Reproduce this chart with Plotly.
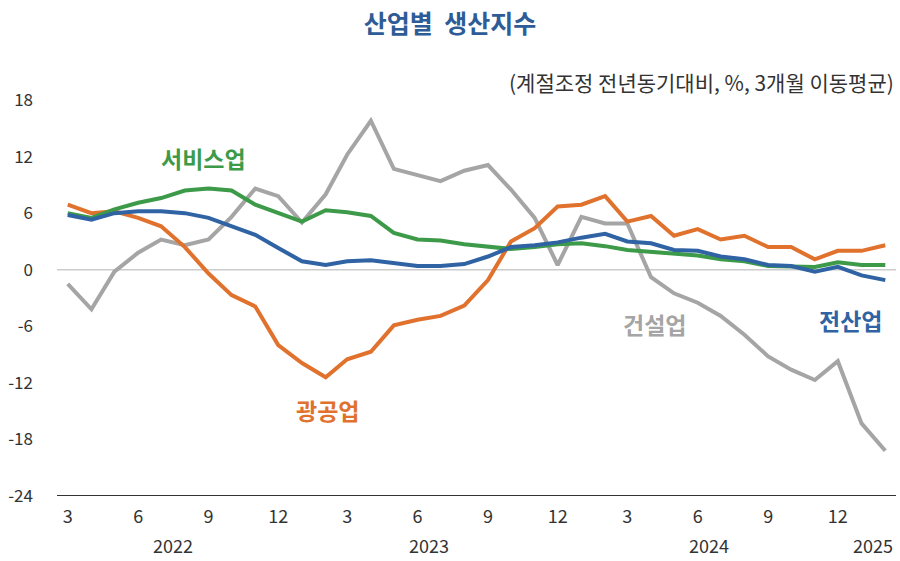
import plotly.graph_objects as go
import pandas as pd

# monthly, 2022-03 ~ 2025-02
months = pd.date_range("2022-03-01", periods=36, freq="MS")

all_ind = [5.8, 5.3, 6.0, 6.2, 6.2, 6.0, 5.5, 4.6, 3.7, 2.3, 0.9, 0.5,
           0.9, 1.0, 0.7, 0.4, 0.4, 0.6, 1.4, 2.4, 2.6, 2.9, 3.4, 3.8,
           3.0, 2.8, 2.1, 2.0, 1.4, 1.1, 0.5, 0.4, -0.2, 0.3, -0.6, -1.1]
mining = [6.9, 6.0, 6.2, 5.5, 4.6, 2.4, -0.4, -2.7, -3.9, -8.0, -9.9, -11.4,
          -9.5, -8.7, -5.9, -5.3, -4.9, -3.8, -1.1, 3.0, 4.4, 6.7, 6.9, 7.8,
          5.1, 5.7, 3.6, 4.3, 3.2, 3.6, 2.4, 2.4, 1.1, 2.0, 2.0, 2.6]
services = [6.0, 5.5, 6.4, 7.1, 7.6, 8.4, 8.6, 8.4, 6.9, 6.0, 5.1, 6.3,
            6.1, 5.7, 3.9, 3.2, 3.1, 2.7, 2.4, 2.2, 2.4, 2.7, 2.8, 2.5,
            2.1, 1.9, 1.7, 1.5, 1.1, 0.9, 0.4, 0.3, 0.3, 0.8, 0.5, 0.5]
construction = [-1.5, -4.2, -0.2, 1.8, 3.2, 2.6, 3.2, 5.6, 8.6, 7.8, 5.0, 8.0,
                12.2, 15.8, 10.7, 10.0, 9.4, 10.5, 11.1, 8.5, 5.5, 0.5, 5.6, 4.9,
                4.9, -0.8, -2.5, -3.5, -4.9, -6.9, -9.2, -10.6, -11.7, -9.7, -16.3, -19.2]

yticks = [18, 12, 6, 0, -6, -12, -18, -24]
ytick_text = ["18", "12", "6", "0", "-6", "-12", "-18", "-24"]
years = ["2022", "2023", "2024", "2025"]
year_pos = ["2022-07-17", "2023-06-16", "2024-06-16", "2025-01-16"]

FONT = "Noto Sans CJK KR"
BLUE = "#2F63A3"
ORANGE = "#E0722E"
GREEN = "#3C9A49"
GRAY = "#A5A5A5"

fig = go.Figure()

series = [
    (construction, GRAY),
    (mining, ORANGE),
    (services, GREEN),
    (all_ind, BLUE),
]
for vals, col in series:
    fig.add_trace(go.Scatter(
        x=months, y=vals, mode="lines",
        line=dict(color=col, width=4),
        showlegend=False, hoverinfo="skip"
    ))

# zero line
fig.add_shape(type="line", xref="paper", x0=0, x1=1, yref="y", y0=0, y1=0,
              line=dict(color="#CCCCCC", width=1.5), layer="below")

tick_dates = [d for d in months if d.month in (3, 6, 9, 12)]
tick_text = [str(d.month) for d in tick_dates]

# series labels
labels = [
    ("서비스업", "2022-08-25", 11.9, GREEN),
    ("광공업", "2023-02-03", -14.85, ORANGE),
    ("건설업", "2024-04-05", -5.8, GRAY),
    ("전산업", "2024-12-17", -5.3, BLUE),
]
for txt, xd, yv, col in labels:
    fig.add_annotation(x=xd, y=yv, text="<b>" + txt + "</b>", showarrow=False,
                       font=dict(family=FONT, size=23, color=col))

for yr, xp in zip(years, year_pos):
    fig.add_annotation(x=xp, y=-0.124, yref="paper", yanchor="middle",
                       text=yr, showarrow=False,
                       font=dict(family=FONT, size=18, color="#333333"))

fig.add_annotation(x=1, y=1.045, xref="paper", yref="paper", xanchor="right",
                   yanchor="middle",
                   text="(계절조정 전년동기대비, %, 3개월 이동평균)", showarrow=False,
                   font=dict(family=FONT, size=21, color="#333333"))

# bottom axis line at -24
fig.add_shape(type="line", xref="paper", x0=0, x1=1, yref="y", y0=-24, y1=-24,
              line=dict(color="#333333", width=2))

fig.update_layout(
    width=900, height=561,
    margin=dict(l=57, r=4, t=100, b=65),
    plot_bgcolor="white", paper_bgcolor="white",
    font=dict(family=FONT, size=15, color="#333333"),
    title=dict(text="<b>산업별  생산지수</b>", x=0.5, xanchor="center", y=0.957,
               yanchor="middle", font=dict(family=FONT, size=25, color="#2E5C97")),
    xaxis=dict(type="date", range=["2022-02-15", "2025-02-15"],
               tickvals=tick_dates, ticktext=tick_text, ticks="",
               showgrid=False, zeroline=False, showline=False,
               ticklabelstandoff=8,
               tickfont=dict(size=18, color="#333333")),
    yaxis=dict(range=[-24, 18], tickvals=yticks, ticktext=ytick_text,
               showgrid=False, zeroline=False,
               showline=False, ticks="", ticklabelstandoff=23,
               tickfont=dict(size=17, color="#333333")),
)

fig.write_html("out.html", config={"displayModeBar": False},
               post_script="document.body.style.margin='0';document.body.style.overflow='hidden';")
